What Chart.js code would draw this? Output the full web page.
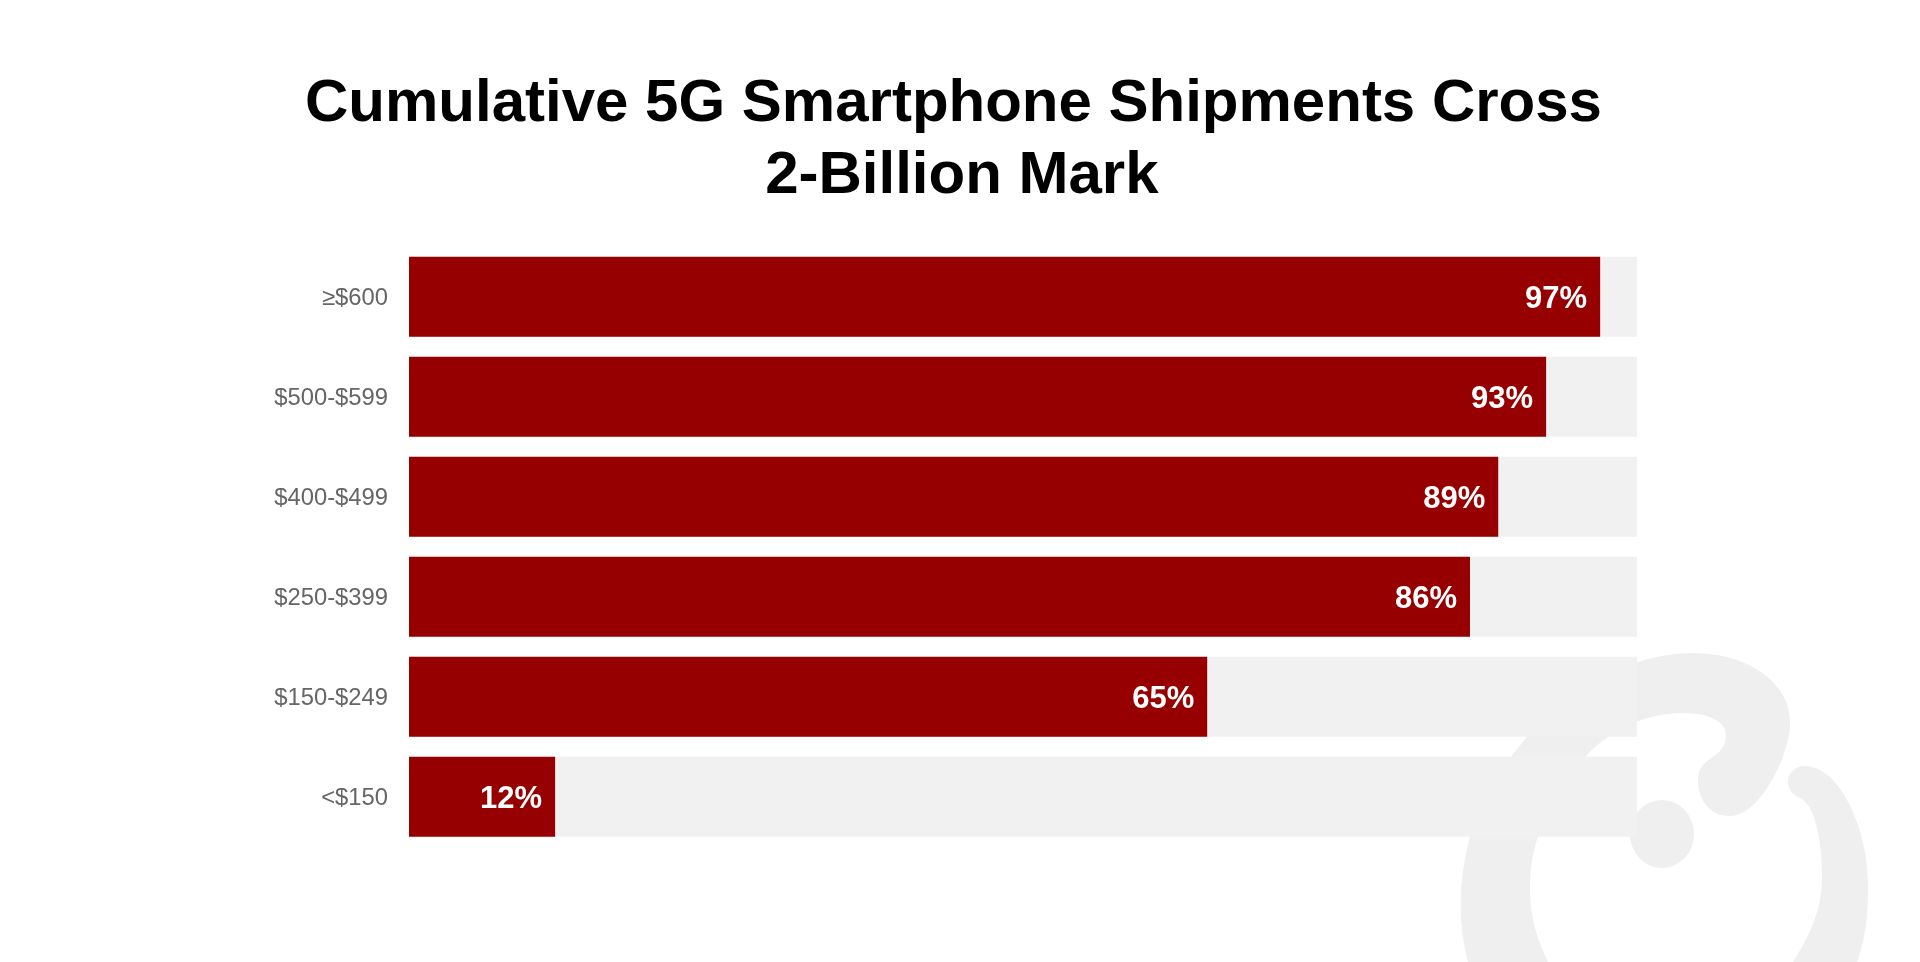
<!DOCTYPE html>
<html>
<head>
<meta charset="utf-8">
<title>Cumulative 5G Smartphone Shipments</title>
<script src="https://cdn.jsdelivr.net/npm/chart.js@4"></script>
<style>
    html, body { margin: 0; padding: 0; background: #fff; overflow: hidden; }
    #watermark { position: absolute; left: 0; top: 0; }
    /* 1907 wide so the centred title lands where the reference has it */
    #chart-box { position: absolute; left: 0; top: 0; width: 1907px; height: 962px; }
</style>
</head>
<body>
<svg id="watermark" width="1920" height="962" viewBox="0 0 1920 962">
    <g fill="#efefef">
        <path d="M1468 962 C1458 925 1458 880 1470 837 C1480 800 1495 775 1527 737 C1570 690 1630 653 1693 653 C1745 653 1790 680 1790 723 C1790 755 1760 816 1730 816 C1710 816 1698 800 1698 780 C1698 755 1726 760 1726 735 C1726 720 1705 713 1683 713 C1640 713 1605 735 1585 757 C1555 790 1530 835 1530 887 C1530 920 1538 940 1548 962 Z"/>
        <ellipse cx="1662" cy="834" rx="32" ry="34"/>
        <path d="M1788 782 C1788 772 1796 766 1805 766 C1840 766 1868 830 1868 883 C1868 920 1865 940 1857 962 L1793 962 C1810 935 1822 910 1822 877 C1822 840 1815 805 1800 798 C1793 795 1788 790 1788 782 Z"/>
    </g>
</svg>
<div id="chart-box"><canvas id="shareChart"></canvas></div>

<script>
const priceBands = ["≥$600", "$500-$599", "$400-$499", "$250-$399", "$150-$249", "<$150"];
const shareValues = [97, 92.6, 88.7, 86.4, 65, 11.9];
const shareLabels = ["97%", "93%", "89%", "86%", "65%", "12%"];
const trackValues = [100, 100, 100, 100, 100, 100];
// leading space: the second line sits a little right of the first in the reference
const titleLines = ["Cumulative 5G Smartphone Shipments Cross", " 2-Billion Mark"];

const fontFamily = '"Liberation Sans", Arial, sans-serif';

// white labels inside the end of each red bar
const barLabelPlugin = {
    id: "barLabels",
    afterDatasetsDraw(chart) {
        const ctx = chart.ctx;
        const bars = chart.getDatasetMeta(0).data;
        ctx.save();
        ctx.fillStyle = "#ffffff";
        ctx.font = "bold 31px " + fontFamily;
        ctx.textAlign = "right";
        ctx.textBaseline = "middle";
        bars.forEach(function (bar, i) {
            ctx.fillText(shareLabels[i], bar.x - 13, bar.y + 3);
        });
        ctx.restore();
    }
};

new Chart(document.getElementById("shareChart"), {
    type: "bar",
    data: {
        labels: priceBands,
        datasets: [
            {
                data: shareValues,
                backgroundColor: "#960000",
                barPercentage: 0.8,
                categoryPercentage: 1,
                order: 1
            },
            {
                data: trackValues,
                backgroundColor: "#f1f1f1",
                barPercentage: 0.8,
                categoryPercentage: 1,
                order: 2
            }
        ]
    },
    options: {
        indexAxis: "y",
        responsive: true,
        maintainAspectRatio: false,
        animation: false,
        layout: {
            // equal side padding keeps the title centred on the canvas
            padding: { top: 68, right: 270, bottom: 115.3, left: 270 }
        },
        plugins: {
            legend: { display: false },
            tooltip: { enabled: false },
            title: {
                display: true,
                text: titleLines,
                color: "#000000",
                font: { family: fontFamily, size: 60, weight: "bold", lineHeight: 1.2 },
                padding: { top: 0, bottom: 34.7 }
            }
        },
        scales: {
            x: {
                display: false,
                min: 0,
                max: 100
            },
            y: {
                stacked: true,
                afterFit: function (scale) {
                    scale.width = 139;
                },
                grid: { display: false, drawTicks: false },
                border: { display: false },
                ticks: {
                    color: "#666666",
                    padding: 21,
                    labelOffset: 1.5,
                    font: { family: fontFamily, size: 23.8 }
                }
            }
        }
    },
    plugins: [barLabelPlugin]
});
</script>
</body>
</html>
